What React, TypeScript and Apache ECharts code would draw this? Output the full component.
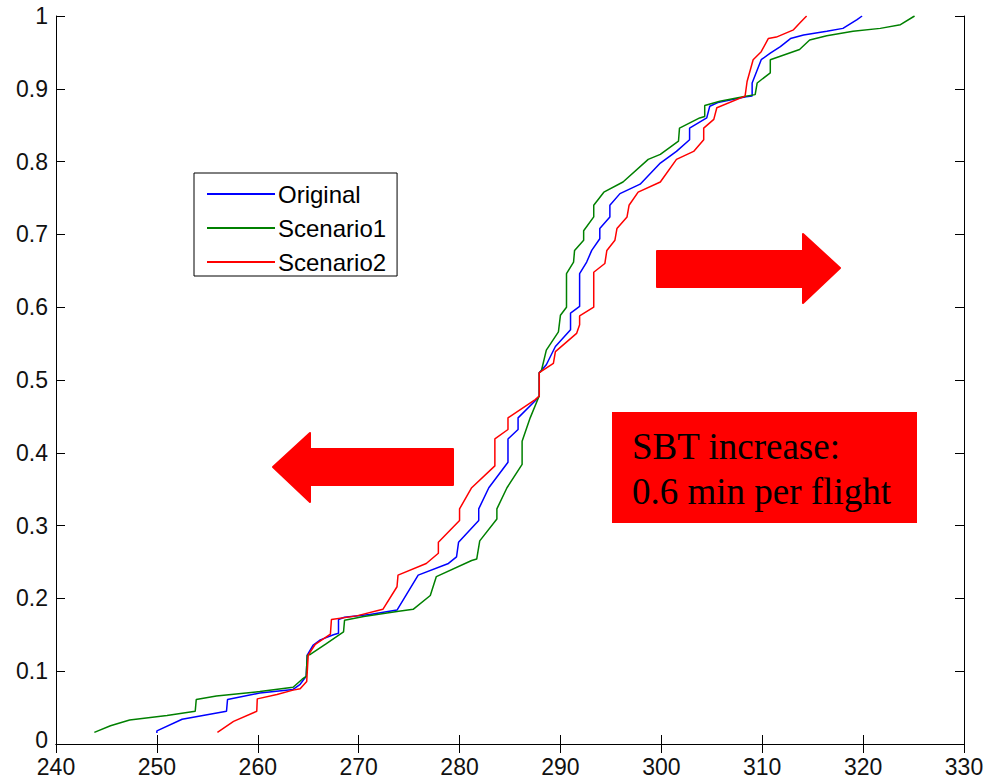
import React, { useEffect, useRef } from "react";
import * as echarts from "echarts";

const seriesNames = ["Original", "Scenario1", "Scenario2"];
const seriesColors = ["#0000ff", "#008000", "#ff0000"];

const xTicks = [240, 250, 260, 270, 280, 290, 300, 310, 320, 330];
const yTicks = [0, 0.1, 0.2, 0.3, 0.4, 0.5, 0.6, 0.7, 0.8, 0.9, 1];

const original: number[][] = [
  [250.0, 0.015], [250.0, 0.018], [252.5, 0.034], [256.9, 0.045], [257.0, 0.061], [260.2, 0.07], [263.5, 0.075],
  [264.2, 0.082], [264.8, 0.093], [264.9, 0.122], [265.5, 0.136], [266.2, 0.143], [267.5, 0.15], [268.0, 0.152],
  [268.0, 0.171], [268.6, 0.174], [271.1, 0.178], [273.8, 0.184], [275.9, 0.232], [278.9, 0.248], [279.7, 0.257],
  [279.9, 0.277], [281.9, 0.307], [281.9, 0.323], [282.9, 0.352], [284.8, 0.387], [284.8, 0.419], [285.8, 0.432],
  [285.8, 0.448], [287.6, 0.473], [287.9, 0.478], [287.9, 0.51], [288.6, 0.521], [289.5, 0.546], [291.0, 0.569],
  [291.0, 0.592], [291.9, 0.601], [291.9, 0.646], [292.6, 0.662], [293.1, 0.678], [293.9, 0.694], [293.9, 0.708],
  [294.9, 0.724], [294.9, 0.74], [295.9, 0.756], [297.9, 0.769], [299.9, 0.798], [301.5, 0.814], [302.8, 0.83],
  [302.8, 0.846], [304.5, 0.86], [304.8, 0.876], [305.6, 0.881], [308.4, 0.889], [309.0, 0.89], [309.0, 0.908],
  [309.9, 0.94], [310.8, 0.949], [311.8, 0.958], [312.8, 0.969], [314.1, 0.974], [316.4, 0.979], [318.0, 0.983],
  [319.4, 0.995], [319.9, 1.0],
];

const scenario1: number[][] = [
  [243.8, 0.016], [245.4, 0.025], [247.3, 0.033], [251.0, 0.039], [253.8, 0.045], [253.9, 0.061], [255.9, 0.066],
  [260.2, 0.072], [263.5, 0.078], [264.4, 0.089], [264.8, 0.093], [264.9, 0.122], [265.2, 0.123], [266.8, 0.138],
  [268.5, 0.154], [268.6, 0.17], [270.5, 0.175], [273.8, 0.182], [275.4, 0.185], [277.1, 0.204], [277.7, 0.23],
  [281.2, 0.252], [281.7, 0.254], [282.0, 0.279], [283.7, 0.309], [283.7, 0.323], [284.7, 0.352], [286.2, 0.384],
  [286.2, 0.416], [287.0, 0.448], [287.8, 0.475], [287.9, 0.478], [287.9, 0.51], [288.1, 0.512], [288.6, 0.541],
  [289.8, 0.566], [290.0, 0.589], [290.6, 0.6], [290.6, 0.646], [291.3, 0.662], [291.4, 0.678], [292.3, 0.692],
  [292.3, 0.705], [293.3, 0.724], [293.3, 0.74], [294.3, 0.758], [296.2, 0.772], [298.7, 0.803], [299.9, 0.81],
  [301.7, 0.828], [301.8, 0.846], [303.8, 0.86], [304.3, 0.862], [304.3, 0.877], [305.8, 0.883], [308.1, 0.889],
  [309.3, 0.892], [309.5, 0.908], [310.8, 0.922], [310.8, 0.94], [313.7, 0.954], [314.7, 0.967], [316.4, 0.973],
  [319.0, 0.979], [321.7, 0.983], [323.7, 0.988], [325.1, 1.0],
];

const scenario2: number[][] = [
  [256.0, 0.016], [257.6, 0.031], [259.9, 0.045], [259.95, 0.062], [261.9, 0.068], [263.5, 0.074], [264.2, 0.076],
  [264.85, 0.086], [265.0, 0.122], [265.7, 0.137], [267.2, 0.151], [267.3, 0.171], [269.8, 0.176], [272.4, 0.185],
  [273.8, 0.216], [273.9, 0.232], [276.7, 0.248], [277.9, 0.262], [277.9, 0.277], [280.0, 0.307], [280.0, 0.323],
  [281.2, 0.352], [283.5, 0.382], [283.5, 0.419], [284.8, 0.432], [284.8, 0.448], [287.5, 0.473], [287.9, 0.478],
  [287.9, 0.51], [289.3, 0.523], [289.5, 0.539], [291.6, 0.564], [291.9, 0.576], [291.9, 0.588], [293.3, 0.6],
  [293.3, 0.648], [294.4, 0.66], [294.6, 0.678], [295.4, 0.692], [295.6, 0.708], [296.6, 0.724], [296.8, 0.74],
  [297.7, 0.758], [299.9, 0.772], [301.5, 0.803], [303.2, 0.814], [304.2, 0.83], [304.2, 0.846], [305.2, 0.858],
  [305.5, 0.874], [308.3, 0.89], [308.5, 0.91], [309.1, 0.94], [309.9, 0.951], [310.6, 0.969], [311.4, 0.971],
  [313.1, 0.981], [313.7, 0.99], [314.4, 1.0],
];

const annotationLines = ["SBT increase:", "0.6 min per flight"];

const AXIS_FONT = '"Liberation Sans Narrow", "Arial Narrow", "Liberation Sans", Arial, sans-serif';

export default function App() {
  const ref = useRef<HTMLDivElement>(null);

  useEffect(() => {
    if (!ref.current) return;
    const chart = echarts.init(ref.current, null, { renderer: "svg" });
    const dataSets = [original, scenario1, scenario2];

    const axisCommon = {
      type: "value" as const,
      axisLine: { show: true, lineStyle: { color: "#000", width: 1 } },
      axisTick: { show: true, inside: true, length: 9, lineStyle: { color: "#000", width: 1 } },
      splitLine: { show: false },
    };

    const red = "#ff0000";
    const leftArrow = [
      [273, 467], [310, 433], [310, 449], [453, 449], [453, 485], [310, 485], [310, 502],
    ];
    const rightArrow = [
      [657, 251], [803, 251], [803, 234], [840, 268], [803, 303], [803, 287], [657, 287],
    ];

    chart.setOption({
      animation: false,
      backgroundColor: "#fff",
      grid: { left: 56, right: 24, top: 16, bottom: 30, containLabel: false },
      xAxis: [
        {
          ...axisCommon,
          position: "bottom",
          min: xTicks[0],
          max: xTicks[xTicks.length - 1],
          interval: 10,
          axisLabel: { show: true, margin: 11, fontSize: 23, fontFamily: AXIS_FONT, color: "#111" },
        },
        {
          ...axisCommon,
          position: "top",
          min: xTicks[0],
          max: xTicks[xTicks.length - 1],
          interval: 10,
          axisLabel: { show: false },
        },
      ],
      yAxis: [
        {
          ...axisCommon,
          position: "left",
          min: yTicks[0],
          max: yTicks[yTicks.length - 1],
          interval: 0.1,
          axisLabel: {
            show: true,
            margin: 8,
            fontSize: 23,
            fontFamily: AXIS_FONT,
            color: "#111",
            formatter: (v: number) => (v === 0 ? "{z|0}" : String(Math.round(v * 10) / 10)),
            rich: {
              z: { fontSize: 23, fontFamily: AXIS_FONT, color: "#111", padding: [0, 0, 9, 0] },
            },
          },
        },
        {
          ...axisCommon,
          position: "right",
          min: yTicks[0],
          max: yTicks[yTicks.length - 1],
          interval: 0.1,
          axisLabel: { show: false },
        },
      ],
      legend: {
        orient: "vertical",
        left: 194,
        top: 173,
        padding: [9, 11, 2, 13],
        itemGap: 10,
        itemWidth: 68,
        itemHeight: 2,
        icon: "rect",
        borderColor: "#000",
        borderWidth: 1,
        backgroundColor: "#fff",
        textStyle: { fontSize: 24, fontFamily: AXIS_FONT, color: "#000", padding: [0, 0, 0, -2] },
        data: seriesNames,
      },
      series: seriesNames.map((name, i) => ({
        name,
        type: "line",
        data: dataSets[i],
        showSymbol: false,
        symbol: "none",
        color: seriesColors[i],
        lineStyle: { width: 1.5, color: seriesColors[i] },
        z: 2 + i,
      })),
      graphic: [
        {
          type: "polygon",
          shape: { points: leftArrow },
          style: { fill: red, lineJoin: "round", stroke: red, lineWidth: 2 },
          z: 10,
        },
        {
          type: "polygon",
          shape: { points: rightArrow },
          style: { fill: red, lineJoin: "round", stroke: red, lineWidth: 2 },
          z: 10,
        },
        {
          type: "rect",
          shape: { x: 612, y: 412, width: 305, height: 111 },
          style: { fill: red },
          z: 10,
        },
        ...annotationLines.map((t, i) => ({
          type: "text",
          x: 632,
          y: 446 + i * 45,
          style: {
            text: t,
            fill: "#000",
            font: '37px "Liberation Serif", "Times New Roman", serif',
            textAlign: "left",
            textVerticalAlign: "middle",
          },
          z: 11,
        })),
      ],
    });

    return () => chart.dispose();
  }, []);

  return <div ref={ref} style={{ width: 988, height: 778, position: "absolute", left: 0, top: 0 }} />;
}
